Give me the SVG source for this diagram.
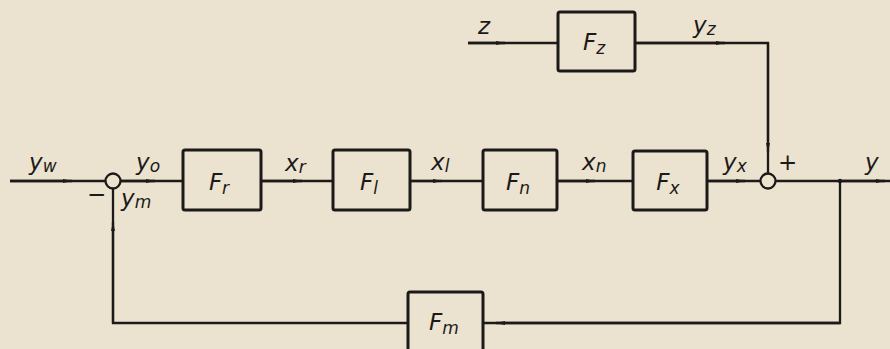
<svg xmlns="http://www.w3.org/2000/svg" width="890" height="349" viewBox="0 0 890 349">
<defs>
<style>
.bg{fill:#ebe3cf}
.box{fill:none;stroke:#1c1a18;stroke-width:3}
.ln{fill:none;stroke:#1c1a18;stroke-width:2.3}
.sum{fill:#ebe3cf;stroke:#1c1a18;stroke-width:2.3}
.lbl{font-family:"DejaVu Sans","Liberation Sans",sans-serif;font-style:oblique;font-size:23px;fill:#1c1a18}
.sub{font-size:17px}
.ctr{text-anchor:middle}
</style>
<marker id="ar" markerWidth="10" markerHeight="6" refX="9" refY="3" orient="auto" markerUnits="userSpaceOnUse">
<path d="M0,1 L9,3 L0,5 Z" fill="#1c1a18"/>
</marker>
</defs>
<rect class="bg" x="0" y="0" width="890" height="349"/>

<g id="connectors">
<path class="ln" d="M10,181 H105.5"/>
<path class="ln" d="M10,181 H72" marker-end="url(#ar)"/>
<path class="ln" d="M120.5,181 H183"/>
<path class="ln" d="M120.5,181 H155" marker-end="url(#ar)"/>
<path class="ln" d="M261,181 H333"/>
<path class="ln" d="M261,181 H302" marker-end="url(#ar)"/>
<path class="ln" d="M410,181 H483"/>
<path class="ln" d="M410,181 H442" marker-end="url(#ar)"/>
<path class="ln" d="M557,181 H633"/>
<path class="ln" d="M557,181 H595" marker-end="url(#ar)"/>
<path class="ln" d="M707,181 H760.5"/>
<path class="ln" d="M707,181 H745" marker-end="url(#ar)"/>
<path class="ln" d="M775.5,181 H890"/>
<path class="ln" d="M840,181 H885" marker-end="url(#ar)"/>
<path class="ln" d="M468,43 H558"/>
<path class="ln" d="M468,43 H505" marker-end="url(#ar)"/>
<path class="ln" d="M635,43 H768 V173.5"/>
<path class="ln" d="M635,43 H725" marker-end="url(#ar)"/>
<path class="ln" d="M768,43 V152" marker-end="url(#ar)"/>
<path class="ln" d="M840,181 V323 H483"/>
<path class="ln" d="M840,323 H496" marker-end="url(#ar)"/>
<path class="ln" d="M408,323 H113 V188.5"/>
<path class="ln" d="M113,323 V222" marker-end="url(#ar)"/>
<circle cx="840" cy="181" r="2.2" fill="#1c1a18"/>
</g>

<g id="sum1">
<circle class="sum" cx="113" cy="181" r="7.5"/>
<text class="lbl" x="87" y="202">−</text>
</g>
<g id="sum2">
<circle class="sum" cx="768" cy="181" r="7.5"/>
<text class="lbl" x="778" y="170">+</text>
</g>

<g id="Fr">
<rect class="box" x="183" y="150" width="78" height="60" rx="2"/>
<text class="lbl ctr" x="219" y="190">F<tspan class="sub" dy="4">r</tspan></text>
</g>
<g id="Fl">
<rect class="box" x="333" y="150" width="77" height="60" rx="2"/>
<text class="lbl ctr" x="369" y="190">F<tspan class="sub" dy="4">l</tspan></text>
</g>
<g id="Fn">
<rect class="box" x="483" y="150" width="74" height="60" rx="2"/>
<text class="lbl ctr" x="518" y="190">F<tspan class="sub" dy="4">n</tspan></text>
</g>
<g id="Fx">
<rect class="box" x="633" y="151" width="74" height="59" rx="2"/>
<text class="lbl ctr" x="668" y="190">F<tspan class="sub" dy="4">x</tspan></text>
</g>
<g id="Fz">
<rect class="box" x="558" y="12" width="77" height="59" rx="2"/>
<text class="lbl ctr" x="594" y="50">F<tspan class="sub" dy="4">z</tspan></text>
</g>
<g id="Fm">
<rect class="box" x="408" y="292" width="75" height="62" rx="2"/>
<text class="lbl ctr" x="444" y="330">F<tspan class="sub" dy="4">m</tspan></text>
</g>

<g id="labels">
<text class="lbl" x="29" y="170">y<tspan class="sub" dy="2">w</tspan></text>
<text class="lbl" x="136" y="170">y<tspan class="sub" dy="2">o</tspan></text>
<text class="lbl" x="121" y="206">y<tspan class="sub" dy="2">m</tspan></text>
<text class="lbl" x="285" y="171">x<tspan class="sub" dy="2">r</tspan></text>
<text class="lbl" x="431" y="170">x<tspan class="sub" dy="2">l</tspan></text>
<text class="lbl" x="582" y="170">x<tspan class="sub" dy="2">n</tspan></text>
<text class="lbl" x="723" y="170">y<tspan class="sub" dy="2">x</tspan></text>
<text class="lbl" x="865" y="170">y</text>
<text class="lbl" x="478" y="34">z</text>
<text class="lbl" x="693" y="33">y<tspan class="sub" dy="2">z</tspan></text>
</g>
</svg>
